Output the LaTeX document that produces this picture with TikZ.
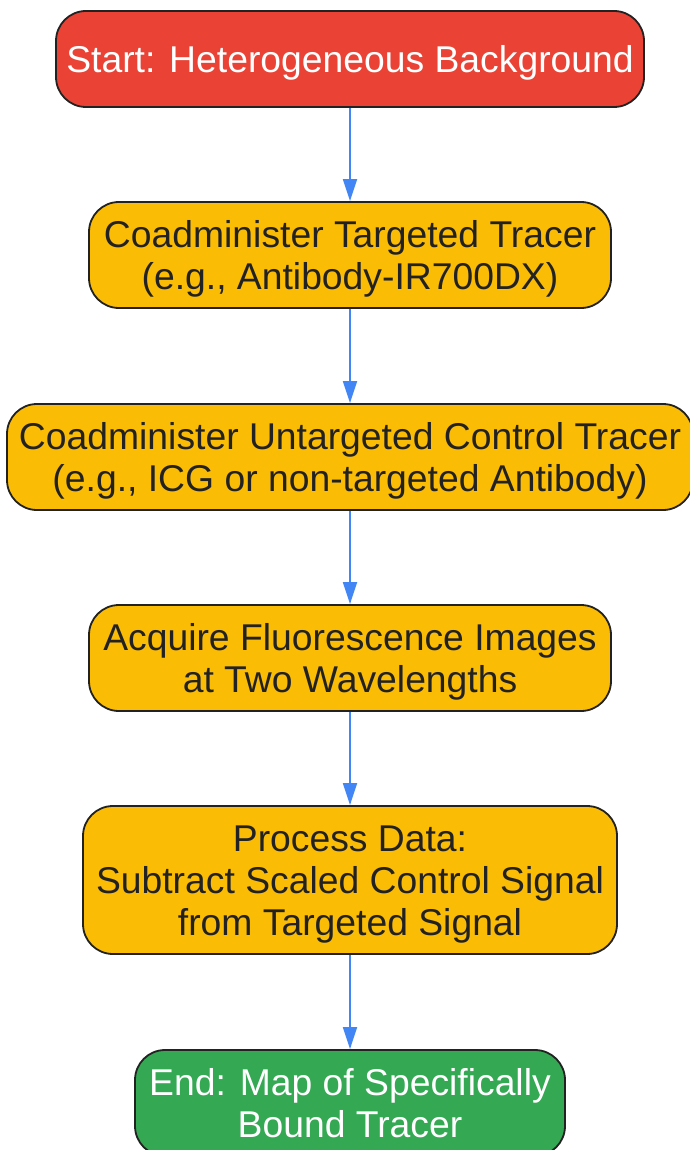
\documentclass[tikz,border=0pt]{standalone}
\usepackage{fontspec}
\setmainfont{Liberation Sans}
\usetikzlibrary{arrows.meta}
\definecolor{startred}{HTML}{EA4335}
\definecolor{stepyellow}{HTML}{FBBC05}
\definecolor{endgreen}{HTML}{34A853}
\definecolor{flowblue}{HTML}{4285F4}
\definecolor{edgegray}{HTML}{222222}
% text lowered a little inside its box
\newcommand{\boxtext}[1]{\raisebox{-5pt}[\height][\depth]{\begin{tabular}{@{}c@{}}#1\end{tabular}}}
\tikzset{
  flowbox/.style={draw=edgegray, line width=1.8pt, rounded corners=30pt, align=center, inner sep=0pt, font=\fontsize{37.3}{42}\selectfont},
  flowarrow/.style={draw=flowblue, line width=1.8pt, -{Triangle[width=14pt,length=22pt]}},
}
\begin{document}
\begin{tikzpicture}[x=1pt,y=1pt,yscale=-1,xscale=1]
        \useasboundingbox (0,0) rectangle (689,1150);
        \node (start) [flowbox, fill=startred, text=white, minimum width=588pt, minimum height=96pt] at (350,59) {\boxtext{Start: Heterogeneous Background}};
        \node (targeted) [flowbox, fill=stepyellow, text=edgegray, minimum width=522pt, minimum height=106pt] at (350,255) {\boxtext{Coadminister Targeted Tracer\\(e.g., Antibody-IR700DX)}};
        \node (control) [flowbox, fill=stepyellow, text=edgegray, minimum width=686pt, minimum height=106pt] at (350,457) {\boxtext{Coadminister Untargeted Control Tracer\\(e.g., ICG or non-targeted Antibody)}};
        \node (acquire) [flowbox, fill=stepyellow, text=edgegray, minimum width=522pt, minimum height=106pt] at (350,658) {\boxtext{Acquire Fluorescence Images\\at Two Wavelengths}};
        \node (process) [flowbox, fill=stepyellow, text=edgegray, minimum width=534pt, minimum height=148pt] at (350,880) {\boxtext{Process Data:\\Subtract Scaled Control Signal\\from Targeted Signal}};
        \node (finish) [flowbox, fill=endgreen, text=white, minimum width=430pt, minimum height=106pt] at (350,1103) {\boxtext{End: Map of Specifically\\Bound Tracer}};
        
        \draw [flowarrow] (start) -- (targeted);
        \draw [flowarrow] (targeted) -- (control);
        \draw [flowarrow] (control) -- (acquire);
        \draw [flowarrow] (acquire) -- (process);
        \draw [flowarrow] (process) -- (finish);
    \end{tikzpicture}
\end{document}
